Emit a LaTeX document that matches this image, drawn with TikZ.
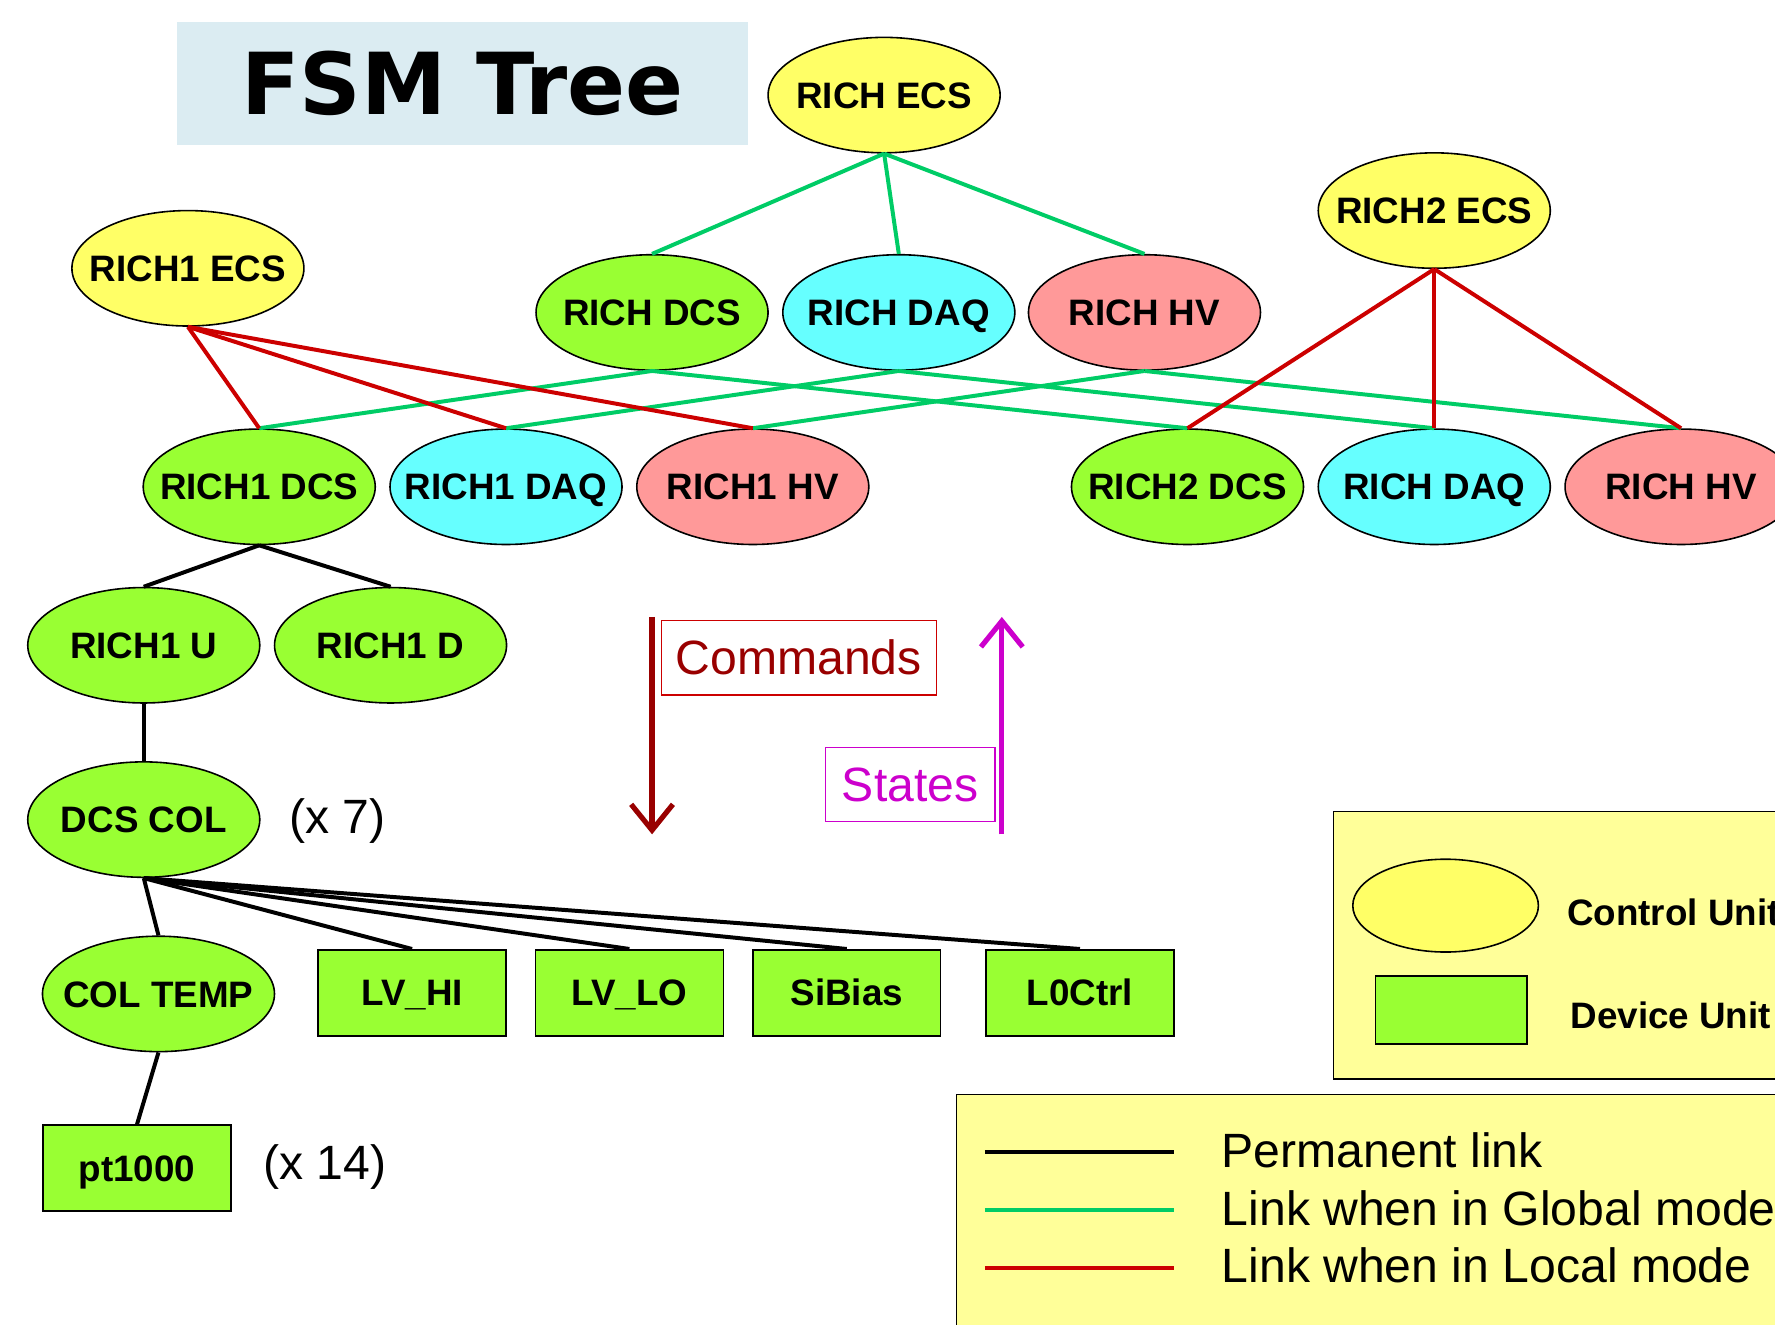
\documentclass[tikz,border=0pt]{standalone}
\usepackage{fontspec}
\setmainfont{Liberation Sans}
\newfontfamily\titlefont{DejaVu Sans}
\usetikzlibrary{shapes.geometric,arrows.meta}

\definecolor{cuyellow}{RGB}{255,255,102}
\definecolor{dcsgreen}{RGB}{153,255,51}
\definecolor{daqcyan}{RGB}{102,255,255}
\definecolor{hvpink}{RGB}{255,153,153}
\definecolor{globgreen}{RGB}{0,204,102}
\definecolor{locred}{RGB}{204,0,0}
\definecolor{titleblue}{RGB}{219,236,242}
\definecolor{legyellow}{RGB}{255,255,153}
\definecolor{cmdred}{RGB}{153,0,0}
\definecolor{statemag}{RGB}{204,0,204}

% label text kept out of the shape size, so every ellipse has the same size
\newcommand{\unitlabel}[1]{\makebox[0pt]{#1}}

\tikzset{
    unit/.style={ellipse,draw,line width=0.8pt,minimum width=4.1cm,minimum height=2.04cm,
        inner sep=0pt,text height=13.2pt,text depth=0pt,
        font=\fontsize{18.5}{22}\selectfont\bfseries},
    ctrl/.style={unit,fill=cuyellow},
    dcsunit/.style={unit,fill=dcsgreen},
    daqunit/.style={unit,fill=daqcyan},
    hvunit/.style={unit,fill=hvpink},
    devunit/.style={rectangle,draw,line width=0.8pt,fill=dcsgreen,minimum width=3.32cm,
        minimum height=1.52cm,inner sep=0pt,text height=13.2pt,text depth=0pt,
        font=\fontsize{18.5}{22}\selectfont\bfseries},
    permlink/.style={black,line width=2pt},
    globlink/.style={globgreen,line width=2pt},
    loclink/.style={locred,line width=2pt},
    plain/.style={font=\fontsize{24.2}{29}\selectfont},
    flowarrow/.style={line width=2.6pt,-{Straight Barb[length=13pt,width=21pt,line width=2.6pt]}},
}

\begin{document}
\begin{tikzpicture}[x=0.02cm,y=-0.02cm]
    \useasboundingbox (0,0) rectangle (1568,1170);
    \clip (0,0) rectangle (1568,1170);

    % title
    \node[fill=titleblue,minimum width=10.1cm,minimum height=2.18cm,inner sep=0pt,
        font=\titlefont\bfseries\fontsize{43}{50}\selectfont] (title) at (408.5,73.5) {FSM Tree};

    % top level
    \node[ctrl] (ecs) at (781,84) {\unitlabel{RICH ECS}};
    \node[ctrl] (ecsone) at (166,237) {\unitlabel{RICH1 ECS}};
    \node[ctrl] (ecstwo) at (1267,186) {\unitlabel{RICH2 ECS}};

    \node[dcsunit] (dcs) at (576,276) {\unitlabel{RICH DCS}};
    \node[daqunit] (daq) at (794,276) {\unitlabel{RICH DAQ}};
    \node[hvunit] (hv) at (1011,276) {\unitlabel{RICH HV}};

    \node[dcsunit] (dcsone) at (229,430) {\unitlabel{RICH1 DCS}};
    \node[daqunit] (daqone) at (447,430) {\unitlabel{RICH1 DAQ}};
    \node[hvunit] (hvone) at (665,430) {\unitlabel{RICH1 HV}};
    \node[dcsunit] (dcstwo) at (1049,430) {\unitlabel{RICH2 DCS}};
    \node[daqunit] (daqtwo) at (1267,430) {\unitlabel{RICH DAQ}};
    \node[hvunit] (hvtwo) at (1485,430) {\unitlabel{RICH HV}};

    % RICH1 DCS branch
    \node[dcsunit] (uone) at (127,570) {\unitlabel{RICH1 U}};
    \node[dcsunit] (done) at (345,570) {\unitlabel{RICH1 D}};
    \node[dcsunit] (dcscol) at (127,724) {\unitlabel{DCS COL}};
    \node[plain] (xseven) at (298,725) {(x 7)};
    \node[dcsunit] (coltemp) at (140,878) {\unitlabel{COL TEMP}};
    \node[devunit] (lvhi) at (364,877) {LV\_HI};
    \node[devunit] (lvlo) at (556,877) {LV\_LO};
    \node[devunit] (sibias) at (748,877) {SiBias};
    \node[devunit] (lctrl) at (954,877) {L0Ctrl};
    \node[devunit] (pt) at (121,1032) {pt1000};
    \node[plain] (xfourteen) at (287,1031) {(x 14)};

    % global links
    \foreach \c in {dcs,daq,hv}
        \draw[globlink] (ecs.south) -- (\c.north);
    \draw[globlink] (dcs.south) -- (dcsone.north);
    \draw[globlink] (dcs.south) -- (dcstwo.north);
    \draw[globlink] (daq.south) -- (daqone.north);
    \draw[globlink] (daq.south) -- (daqtwo.north);
    \draw[globlink] (hv.south) -- (hvone.north);
    \draw[globlink] (hv.south) -- (hvtwo.north);

    % local links
    \foreach \c in {dcsone,daqone,hvone}
        \draw[loclink] (ecsone.south) -- (\c.north);
    \foreach \c in {dcstwo,daqtwo,hvtwo}
        \draw[loclink] (ecstwo.south) -- (\c.north);

    % permanent links
    \draw[permlink] (dcsone.south) -- (uone.north);
    \draw[permlink] (dcsone.south) -- (done.north);
    \draw[permlink] (uone.south) -- (dcscol.north);
    \foreach \c in {coltemp,lvhi,lvlo,sibias,lctrl}
        \draw[permlink] (dcscol.south) -- (\c.north);
    \draw[permlink] (coltemp.south) -- (pt.north);

    % commands and states
    \draw[cmdred,flowarrow] (576,545) -- (576,737);
    \node[draw=locred,text=cmdred,line width=0.6pt,minimum width=4.86cm,minimum height=1.32cm,
        plain] (cmd) at (705.5,581) {Commands};
    \draw[statemag,flowarrow] (885,737) -- (885,545);
    \node[draw=statemag,text=statemag,line width=0.6pt,minimum width=3.0cm,minimum height=1.32cm,
        plain] (states) at (804,693) {States};

    % legend of units
    \draw[line width=0.8pt,fill=legyellow] (1178,717) rectangle (1620,953);
    \node[ellipse,draw,line width=0.8pt,fill=cuyellow,minimum width=3.28cm,minimum height=1.64cm] (legctrl) at (1277,800) {};
    \node[anchor=west,inner sep=0pt,font=\fontsize{18.5}{22}\selectfont\bfseries] (legctrltext) at (1384,806) {Control Unit};
    \draw[line width=0.8pt,fill=dcsgreen] (1215,862) rectangle (1349,922);
    \node[anchor=west,inner sep=0pt,font=\fontsize{18.5}{22}\selectfont\bfseries] (legdevtext) at (1387,897) {Device Unit};

    % legend of links
    \draw[line width=0.8pt,fill=legyellow] (845,967) rectangle (1620,1200);
    \draw[permlink] (870,1018) -- (1037,1018);
    \draw[globlink] (870,1069) -- (1037,1069);
    \draw[loclink] (870,1120) -- (1037,1120);
    \node[plain,anchor=west,inner sep=0pt] (legperm) at (1079,1016) {Permanent link};
    \node[plain,anchor=west,inner sep=0pt] (legglob) at (1079,1067) {Link when in Global mode};
    \node[plain,anchor=west,inner sep=0pt] (legloc) at (1079,1118) {Link when in Local mode};
\end{tikzpicture}
\end{document}
